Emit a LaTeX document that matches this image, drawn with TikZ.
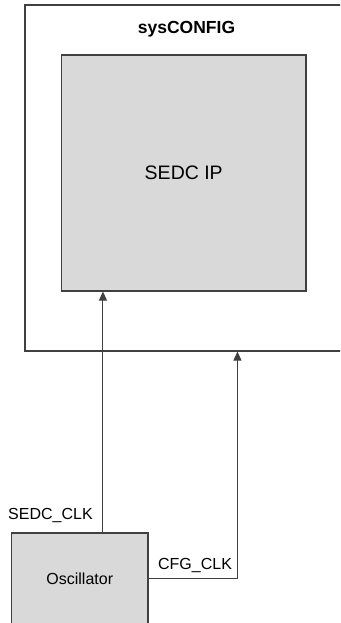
\documentclass[tikz,border=0pt]{standalone}
\usepackage{fontspec}
\setmainfont{Liberation Sans}
\usepackage{tikz}
\usetikzlibrary{positioning,arrows.meta,calc}

\begin{document}
\begin{tikzpicture}[
  x=1pt, y=1pt,
  frame/.style={draw=black!75, line width=1.1pt, minimum width=323pt,
                minimum height=346pt, inner sep=0pt},
  block/.style={draw=black!75, line width=1.1pt, fill=black!15,
                inner sep=0pt, align=center},
  title/.style={font=\fontsize{17.5}{21}\selectfont\bfseries},
  sig/.style={font=\fontsize{16}{19}\selectfont},
  ar/.style={-{Triangle[length=9pt,width=8pt]}, draw=black!75,
             line width=1pt},
]
  \useasboundingbox (0,0) rectangle (340,623);
  \clip (0,0) rectangle (340,623);

  %% sysCONFIG frame with the SEDC IP block inside
  \node[frame] (sys) at (186.5,445) {};
  \node[title, anchor=base] (systitle) at ([yshift=-29.3pt]sys.north)
    {sysCONFIG};
  \node[block, minimum width=244.5pt, minimum height=236pt,
        font=\fontsize{19.5}{23}\selectfont] (ip) at (183.75,450) {SEDC IP};

  %% Oscillator block, bottom left
  \node[block, minimum width=136.5pt, minimum height=91pt,
        font=\fontsize{16}{19}\selectfont] (osc) at (79.75,44.5) {Oscillator};

  %% clock lines
  \draw[ar] ([xshift=92pt]osc.north west)
    -- ([xshift=92pt]osc.north west |- ip.south);
  \draw[ar] (osc.east) -| ([xshift=213pt]sys.south west);

  \node[sig, anchor=base] (sedcclk) at ([xshift=39.5pt,yshift=13pt]osc.north west)
    {SEDC\_CLK};
  \node[sig, anchor=base] (cfgclk) at ([xshift=46.5pt,yshift=8.5pt]osc.east)
    {CFG\_CLK};
\end{tikzpicture}
\end{document}
